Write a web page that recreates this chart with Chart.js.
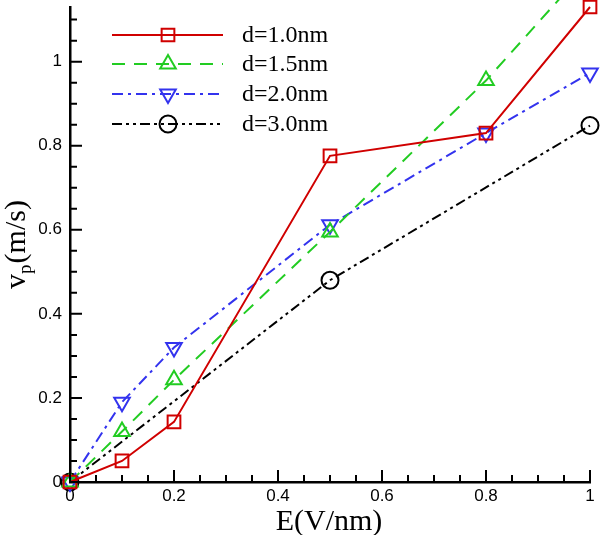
<!DOCTYPE html>
<html>
<head>
<meta charset="utf-8">
<script src="https://cdn.jsdelivr.net/npm/chart.js@4/dist/chart.umd.min.js"></script>
<style>
  html, body { margin: 0; padding: 0; background: #fff; }
  #wrap { width: 601px; height: 535px; }
</style>
</head>
<body>
<div id="wrap"><canvas id="c" width="601" height="535"></canvas></div>
<script>
// values
var xD10 = [0, 0.1, 0.2, 0.5, 0.8, 1.0];
var yD10 = [0, 0.05, 0.143, 0.776, 0.83, 1.13];
var xD15 = [0, 0.1, 0.2, 0.5, 0.8, 1.0];
var yD15 = [0, 0.12, 0.243, 0.595, 0.955, 1.23];
var xD20 = [0, 0.1, 0.2, 0.5, 0.8, 1.0];
var yD20 = [0, 0.19, 0.32, 0.612, 0.83, 0.973];
var xD30 = [0, 0.5, 1.0];
var yD30 = [0, 0.48, 0.848];

var xTicks = [0, 0.2, 0.4, 0.6, 0.8, 1];
var xTickLabels = ['0', '0.2', '0.4', '0.6', '0.8', '1'];
var yTicks = [0, 0.2, 0.4, 0.6, 0.8, 1];
var yTickLabels = ['0', '0.2', '0.4', '0.6', '0.8', '1'];
var xMinor = [0.05, 0.1, 0.15, 0.25, 0.3, 0.35, 0.45, 0.5, 0.55, 0.65, 0.7, 0.75, 0.85, 0.9, 0.95];
var yMinor = [0.05, 0.1, 0.15, 0.25, 0.3, 0.35, 0.45, 0.5, 0.55, 0.65, 0.7, 0.75, 0.85, 0.9, 0.95, 1.05, 1.1];

var SERIF = "'Liberation Serif', 'Times New Roman', serif";
var SANS = "'Liberation Sans', Arial, sans-serif";

function pts(xs, ys) {
  return xs.map(function(x, i) { return { x: x, y: ys[i] }; });
}

function series(label, data, color, dash, style, rot, r) {
  return {
    label: label,
    data: data,
    borderColor: color,
    backgroundColor: 'transparent',
    borderWidth: 2,
    borderDash: dash,
    pointStyle: style,
    rotation: rot,
    pointRadius: r,
    pointBorderWidth: 2,
    pointBorderColor: color,
    pointBackgroundColor: 'transparent',
    tension: 0,
    fill: false,
    clip: { left: 12, top: 8, right: 12, bottom: 12 }
  };
}

var overlay = {
  id: 'overlay',
  afterDraw: function(chart) {
    var ctx = chart.ctx;
    var xs = chart.scales.x, ys = chart.scales.y;
    var a = chart.chartArea;
    ctx.save();
    ctx.strokeStyle = '#000';
    ctx.lineWidth = 2;
    ctx.setLineDash([]);
    ctx.beginPath();
    xTicks.forEach(function(v) { var p = xs.getPixelForValue(v); ctx.moveTo(p, a.bottom); ctx.lineTo(p, a.bottom - 12); });
    xMinor.forEach(function(v) { var p = xs.getPixelForValue(v); ctx.moveTo(p, a.bottom); ctx.lineTo(p, a.bottom - 7); });
    yTicks.forEach(function(v) { var p = ys.getPixelForValue(v); ctx.moveTo(a.left, p); ctx.lineTo(a.left + 12, p); });
    yMinor.forEach(function(v) { var p = ys.getPixelForValue(v); ctx.moveTo(a.left, p); ctx.lineTo(a.left + 7, p); });
    ctx.stroke();

    // legend
    var rowY = [35, 64, 94, 124];
    chart.data.datasets.forEach(function(ds, i) {
      var y = rowY[i];
      ctx.strokeStyle = ds.borderColor;
      ctx.lineWidth = ds.borderWidth;
      ctx.setLineDash(ds.borderDash);
      ctx.beginPath();
      ctx.moveTo(112, y);
      ctx.lineTo(223, y);
      ctx.stroke();
      ctx.setLineDash([]);
      ctx.fillStyle = 'rgba(0,0,0,0)';
      Chart.helpers.drawPoint(ctx, { pointStyle: ds.pointStyle, rotation: ds.rotation, radius: ds.pointRadius, borderWidth: 2 }, 168, y);
      ctx.fillStyle = '#000';
      ctx.font = '24px ' + SERIF;
      ctx.textAlign = 'left';
      ctx.textBaseline = 'middle';
      ctx.fillText(ds.label, 242, y + 1);
    });

    // axis titles
    ctx.fillStyle = '#000';
    ctx.textBaseline = 'alphabetic';
    ctx.font = '30px ' + SERIF;
    ctx.textAlign = 'center';
    ctx.fillText('E(V/nm)', 329, 530);

    ctx.translate(25, 245);
    ctx.rotate(-Math.PI / 2);
    ctx.textAlign = 'left';
    ctx.font = '30px ' + SERIF;
    var w1 = ctx.measureText('v').width;
    var w3 = ctx.measureText('(m/s)').width;
    ctx.font = '19px ' + SERIF;
    var w2 = ctx.measureText('p').width;
    var x0 = -(w1 + w2 + w3) / 2;
    ctx.font = '30px ' + SERIF;
    ctx.fillText('v', x0, 0);
    ctx.font = '19px ' + SERIF;
    ctx.fillText('p', x0 + w1, 6);
    ctx.font = '30px ' + SERIF;
    ctx.fillText('(m/s)', x0 + w1 + w2 + 1, 0);
    ctx.restore();
  }
};

new Chart(document.getElementById('c').getContext('2d'), {
  type: 'line',
  data: {
    datasets: [
      series('d=1.0nm', pts(xD10, yD10), '#d00000', [], 'rect', 0, 9),
      series('d=1.5nm', pts(xD15, yD15), '#22cc22', [13, 9], 'triangle', 0, 9),
      series('d=2.0nm', pts(xD20, yD20), '#3333ee', [11, 5, 3, 5], 'triangle', 180, 9),
      series('d=3.0nm', pts(xD30, yD30), '#000000', [10, 4, 3, 4, 3, 4], 'circle', 0, 8.5)
    ]
  },
  options: {
    responsive: false,
    animation: false,
    layout: { autoPadding: false, padding: { top: 7, right: 11, left: 0, bottom: 0 } },
    plugins: { legend: { display: false }, tooltip: { enabled: false } },
    scales: {
      x: {
        type: 'linear',
        min: 0,
        max: 1,
        afterBuildTicks: function(s) { s.ticks = xTicks.map(function(v) { return { value: v }; }); },
        afterFit: function(s) { s.height = 53; s.paddingLeft = 0; s.paddingRight = 0; },
        ticks: {
          autoSkip: false,
          maxRotation: 0,
          padding: 4,
          color: '#000',
          font: { family: SANS, size: 17 },
          callback: function(v) { return xTickLabels[xTicks.indexOf(v)]; }
        },
        grid: { display: true, drawOnChartArea: false, drawTicks: false },
        border: { display: true, color: '#000', width: 2.5 }
      },
      y: {
        type: 'linear',
        min: 0,
        max: 1.13,
        afterBuildTicks: function(s) { s.ticks = yTicks.map(function(v) { return { value: v }; }); },
        afterFit: function(s) { s.width = 70; s.paddingTop = 0; s.paddingBottom = 0; },
        ticks: {
          autoSkip: false,
          padding: 8,
          color: '#000',
          font: { family: SANS, size: 17 },
          callback: function(v) { return yTickLabels[yTicks.indexOf(v)]; }
        },
        grid: { display: true, drawOnChartArea: false, drawTicks: false },
        border: { display: true, color: '#000', width: 2.5 }
      }
    }
  },
  plugins: [overlay]
});
</script>
</body>
</html>
